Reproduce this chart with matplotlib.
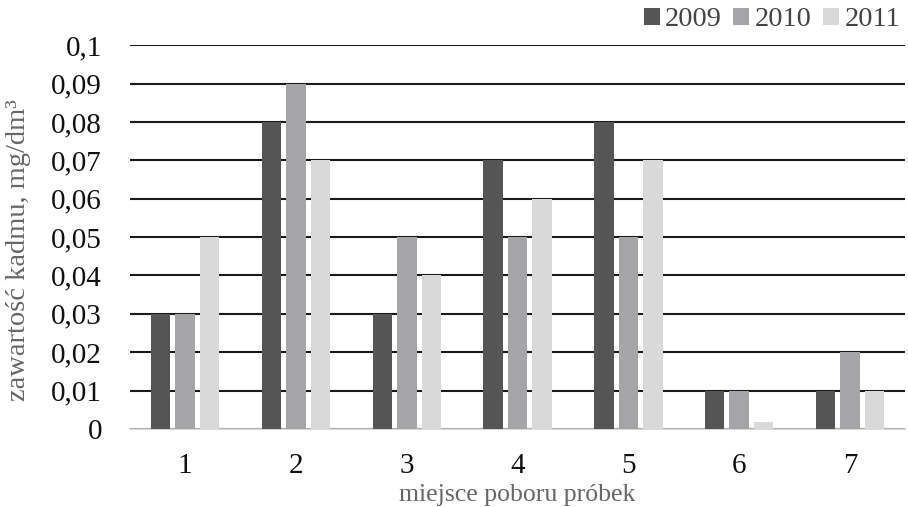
import numpy as np
import matplotlib.pyplot as plt
from matplotlib.ticker import FuncFormatter

plt.rcParams['font.family'] = ['Liberation Serif', 'DejaVu Serif']

sites = ['1', '2', '3', '4', '5', '6', '7']
years = ['2009', '2010', '2011']
cd_2009 = [0.03, 0.08, 0.03, 0.07, 0.08, 0.01, 0.01]
cd_2010 = [0.03, 0.09, 0.05, 0.05, 0.05, 0.01, 0.02]
cd_2011 = [0.05, 0.07, 0.04, 0.06, 0.07, 0.0017, 0.01]
colors = ['#555555', '#a5a5a7', '#d9d9d9']

fig = plt.figure(figsize=(9.08, 5.07), dpi=100)
ax = fig.add_axes([0.143, 0.154, 0.854, 0.757])

x = np.arange(len(sites))
w = 0.176
step = 0.221
for i, (vals, yr) in enumerate(zip([cd_2009, cd_2010, cd_2011], years)):
    ax.bar(x + (i - 1) * step, vals, w, color=colors[i], label=yr, zorder=3)

ax.set_ylim(0, 0.1)
ax.set_xlim(-0.5, len(sites) - 0.5)
ax.set_yticks(np.arange(0, 0.101, 0.01))
ax.yaxis.set_major_formatter(FuncFormatter(
    lambda v, p: '0' if abs(v) < 1e-9 else ('%g' % round(v, 2)).replace('.', ',')))
ax.set_xticks(x)
ax.set_xticklabels(sites)

# black horizontal grid, light baseline
ax.grid(axis='y', color='#1a1a1a', linewidth=1.5, zorder=0)
for s in ['top', 'right', 'left']:
    ax.spines[s].set_visible(False)
ax.spines['bottom'].set_color('#d0d0d0')
ax.spines['bottom'].set_linewidth(1.2)
ax.tick_params(length=0, labelsize=21, colors='#111111')
ax.tick_params(axis='y', pad=20)
ax.tick_params(axis='x', pad=17)

ax.set_ylabel('zawartość kadmu, mg/dm³', fontsize=20.5, color='#666666')
ax.yaxis.set_label_coords(-0.128, 0.465)
ax.set_xlabel('miejsce poboru próbek', fontsize=18.5, color='#666666', labelpad=4)

ax.legend(loc='lower right', bbox_to_anchor=(1.01, 1.0), ncol=3, frameon=False,
          fontsize=20.5, handlelength=0.55, handleheight=0.55, handletextpad=0.2,
          columnspacing=0.4, borderaxespad=0.05, labelcolor='#444444')

fig.savefig('out.png', dpi=100)
